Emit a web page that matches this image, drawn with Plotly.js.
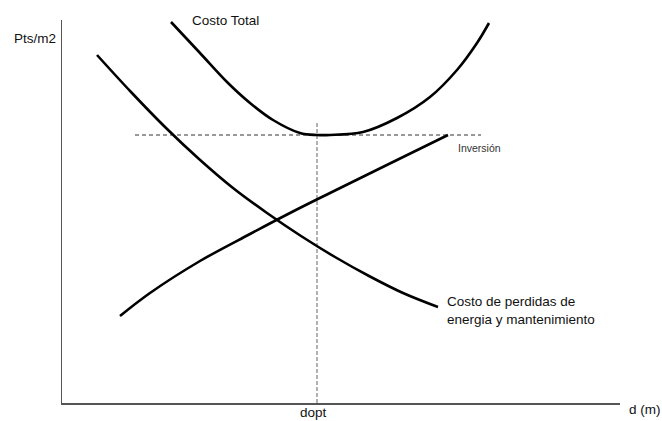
<!DOCTYPE html>
<html>
<head>
<meta charset="utf-8">
<script src="https://cdn.plot.ly/plotly-3.0.1.min.js"></script>
<style>html,body{margin:0;padding:0;background:#fff;}#chart{width:662px;height:421px;}</style>
</head>
<body>
<div id="chart"></div>
<script>
// Conceptual curves (arbitrary units)
const totalX = [109, 138, 165, 188, 211, 238, 255, 268, 301, 335, 368, 395, 415, 427];
const totalY = [381, 350, 321, 300, 283, 270, 268, 268, 271, 285, 306, 333, 360, 380];

const perdidasX = [35, 69, 103, 137, 171, 205, 239, 273, 307, 341, 376];
const perdidasY = [348, 311, 276, 244, 215, 190, 167, 146, 127, 110, 96];

const inversionX = [58, 88, 138, 188, 228, 268, 335, 386];
const inversionY = [87, 110, 142, 169, 190, 210, 243, 268];

// Reference dashed lines
const hLineX = [73, 419];
const hLineY = [268, 268];
const dOptX = [255, 255];
const dOptY = [0, 280];

const labels = {
  yTitle: "Pts/m2",
  xTitle: "d (m)",
  dopt: "dopt",
  total: "Costo Total",
  inversion: "Inversión",
  perdidas: "Costo de perdidas de<br>energia y mantenimiento"
};

const curve = {color: '#000', width: 2.6, shape: 'spline', smoothing: 1};
const font = {family: 'Liberation Sans, Arial, sans-serif', size: 13.5, color: '#111'};

const traces = [
  {x: hLineX, y: hLineY, mode: 'lines', line: {color: '#333', width: 1, dash: '4px,3px'}},
  {x: dOptX, y: dOptY, mode: 'lines', line: {color: '#888', width: 1.3, dash: '4px,2px'}},
  {x: totalX, y: totalY, mode: 'lines', line: curve},
  {x: perdidasX, y: perdidasY, mode: 'lines', line: curve},
  {x: inversionX, y: inversionY, mode: 'lines', line: curve}
];

const ann = (text, x, y, xa, ya, f) => ({text, x, y, xref: 'x', yref: 'y', xanchor: xa, yanchor: ya,
  showarrow: false, align: 'left', font: f || font});
const pann = (text, x, y, xa, ya) => ({text, x, y, xref: 'paper', yref: 'paper', xanchor: xa, yanchor: ya,
  showarrow: false, align: 'left', font: font});

const layout = {
  width: 662, height: 421,
  margin: {l: 62, r: 42, t: 20, b: 18, pad: 0},
  paper_bgcolor: '#fff', plot_bgcolor: '#fff',
  showlegend: false,
  xaxis: {range: [0, 558], showgrid: false, zeroline: false, showticklabels: false, ticks: '',
          showline: true, linecolor: '#555', linewidth: 1.5},
  yaxis: {range: [0, 383], showgrid: false, zeroline: false, showticklabels: false, ticks: '',
          showline: true, linecolor: '#555', linewidth: 1.5},
  annotations: [
    pann(labels.yTitle, -0.09, 0.953, 'left', 'middle'),
    pann(labels.xTitle, 1.045, -0.018, 'center', 'middle'),
    pann(labels.dopt, 0.45, -0.026, 'center', 'middle'),
    ann(labels.total, 128, 383, 'left', 'middle'),
    ann(labels.inversion, 394, 255, 'left', 'middle', {family: 'Liberation Sans, Arial, sans-serif', size: 10.5, color: '#333'}),
    ann(labels.perdidas, 383, 111, 'left', 'top')
  ]
};

Plotly.newPlot('chart', traces, layout, {staticPlot: true, displayModeBar: false});
</script>
</body>
</html>
